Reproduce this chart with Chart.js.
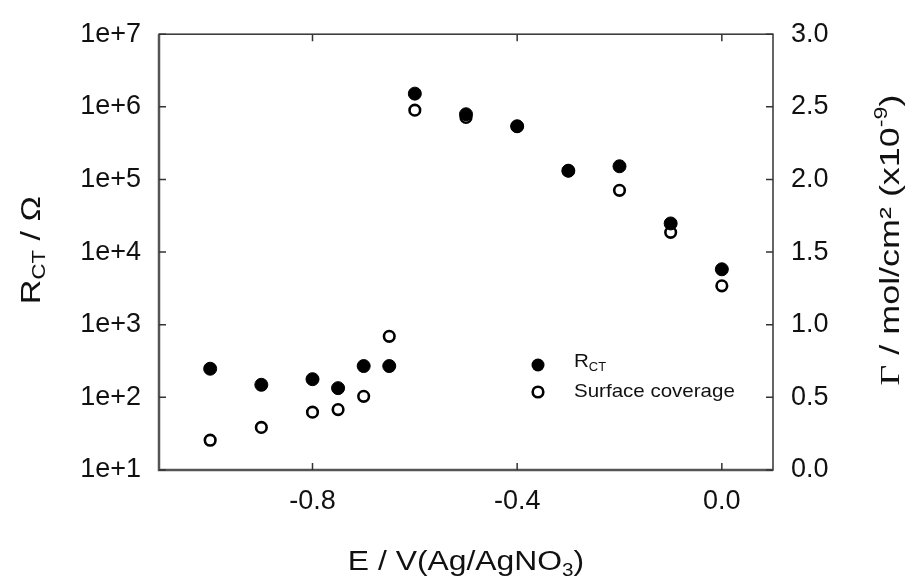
<!DOCTYPE html>
<html>
<head>
<meta charset="utf-8">
<script src="https://cdn.jsdelivr.net/npm/chart.js@4.4.1/dist/chart.umd.min.js"></script>
<style>
  html, body { margin: 0; padding: 0; background: #fff; }
  #wrap { width: 914px; height: 583px; }
</style>
</head>
<body>
<div id="wrap"><canvas id="chart" width="914" height="583"></canvas></div>
<script>
// Data
const potentials = [-1.0, -0.9, -0.8, -0.75, -0.7, -0.65, -0.6, -0.5, -0.4, -0.3, -0.2, -0.1, 0.0];
const rct = [248, 149, 178, 134, 270, 270, 1.52e6, 7.9e5, 5.4e5, 1.32e5, 1.52e5, 2.48e4, 5.8e3];
const coverage = [0.205, 0.293, 0.398, 0.416, 0.507, 0.920, 2.477, 2.427, 2.366, 2.059, 1.925, 1.636, 1.268];

// Tick labels
const xTicks = [-0.8, -0.4, 0.0];
const leftTicks = [1e1, 1e2, 1e3, 1e4, 1e5, 1e6, 1e7];
const rightTicks = [0, 0.5, 1.0, 1.5, 2.0, 2.5, 3.0];

const font = '"Liberation Sans", Arial, sans-serif';
const ink = '#111';

// draw a run of text pieces (normal / sub / sup), centred on x,
// k widens the text (the original lettering is broad)
function drawRich(ctx, parts, size, x, y, k) {
    let total = 0;
    parts.forEach(p => {
        const s = p.sub || p.sup ? size * 0.65 : size;
        p.f = s + 'px ' + (p.serif ? '"Liberation Serif", serif' : font);
        ctx.font = p.f;
        p.w = ctx.measureText(p.t).width;
        total += p.w;
    });
    ctx.save();
    ctx.translate(x, y);
    ctx.scale(k || 1, 1);
    let cx = -total / 2;
    ctx.textBaseline = 'middle';
    ctx.textAlign = 'left';
    parts.forEach(p => {
        ctx.font = p.f;
        let dy = 0;
        if (p.sub) dy = size * 0.3;
        if (p.sup) dy = -size * 0.35;
        ctx.fillText(p.t, cx, y === undefined ? 0 : dy);
        cx += p.w;
    });
    ctx.restore();
}

const extras = {
    id: 'extras',
    afterDraw(chart) {
        const ctx = chart.ctx;
        const a = chart.chartArea;
        const sx = chart.scales.x, sl = chart.scales.yL, sr = chart.scales.yR;
        ctx.save();

        // frame: left and bottom a bit heavier
        ctx.strokeStyle = '#333';
        ctx.lineWidth = 1.5;
        ctx.strokeRect(a.left, a.top, a.right - a.left, a.bottom - a.top);
        ctx.strokeStyle = '#555';
        ctx.lineWidth = 2.5;
        ctx.beginPath();
        ctx.moveTo(a.left, a.top);
        ctx.lineTo(a.left, a.bottom);
        ctx.lineTo(a.right, a.bottom);
        ctx.stroke();

        // inward tick marks
        ctx.strokeStyle = '#333';
        ctx.lineWidth = 1.5;
        const tl = 7;
        ctx.beginPath();
        xTicks.forEach(v => {
            const px = sx.getPixelForValue(v);
            ctx.moveTo(px, a.bottom); ctx.lineTo(px, a.bottom - tl);
            ctx.moveTo(px, a.top); ctx.lineTo(px, a.top + tl);
        });
        leftTicks.forEach(v => {
            const py = sl.getPixelForValue(v);
            ctx.moveTo(a.left, py); ctx.lineTo(a.left + tl, py);
        });
        rightTicks.forEach(v => {
            const py = sr.getPixelForValue(v);
            ctx.moveTo(a.right, py); ctx.lineTo(a.right - tl, py);
        });
        ctx.stroke();

        ctx.fillStyle = ink;

        // x title
        drawRich(ctx, [{t: 'E / V(Ag/AgNO'}, {t: '3', sub: true}, {t: ')'}], 27, 466, 563, 1.18);

        // left title
        ctx.save();
        ctx.translate(32, 250);
        ctx.rotate(-Math.PI / 2);
        drawRich(ctx, [{t: 'R'}, {t: 'CT', sub: true}, {t: ' / Ω'}], 28, 0, 0, 1.22);
        ctx.restore();

        // right title
        ctx.save();
        ctx.translate(892, 240);
        ctx.rotate(-Math.PI / 2);
        drawRich(ctx, [{t: 'Γ', serif: true}, {t: ' / mol/cm² (x10'}, {t: '-9', sup: true}, {t: ')'}], 27, 0, 0, 1.33);
        ctx.restore();

        // legend
        const lx = 538, ly1 = 365, ly2 = 392;
        ctx.beginPath();
        ctx.arc(lx, ly1, 6.5, 0, Math.PI * 2);
        ctx.fillStyle = '#000';
        ctx.fill();
        ctx.beginPath();
        ctx.arc(lx, ly2, 5.3, 0, Math.PI * 2);
        ctx.fillStyle = '#fff';
        ctx.fill();
        ctx.lineWidth = 2.6;
        ctx.strokeStyle = '#000';
        ctx.stroke();
        ctx.fillStyle = ink;
        ctx.save();
        ctx.translate(574, 0);
        ctx.scale(1.08, 1);
        ctx.textBaseline = 'middle';
        ctx.textAlign = 'left';
        ctx.font = '19px ' + font;
        ctx.fillText('R', 0, ly1 - 3);
        const rw = ctx.measureText('R').width;
        ctx.font = '12px ' + font;
        ctx.fillText('CT', rw, ly1 + 3);
        ctx.font = '19px ' + font;
        ctx.fillText('Surface coverage', 0, ly2);
        ctx.restore();

        ctx.restore();
    }
};

new Chart(document.getElementById('chart').getContext('2d'), {
    type: 'scatter',
    data: {
        datasets: [
            {
                label: 'RCT',
                data: potentials.map((x, i) => ({x: x, y: rct[i]})),
                yAxisID: 'yL',
                backgroundColor: '#000',
                borderColor: '#000',
                borderWidth: 1,
                pointRadius: 6.5,
                order: 0
            },
            {
                label: 'Surface coverage',
                data: potentials.map((x, i) => ({x: x, y: coverage[i]})),
                yAxisID: 'yR',
                backgroundColor: '#fff',
                borderColor: '#000',
                borderWidth: 2.6,
                pointRadius: 5.3,
                order: 1
            }
        ]
    },
    options: {
        responsive: false,
        animation: false,
        layout: { padding: { top: 30, left: 0, right: 0, bottom: 0 } },
        plugins: {
            legend: { display: false },
            tooltip: { enabled: false }
        },
        scales: {
            x: {
                type: 'linear',
                min: -1.1,
                max: 0.1,
                grid: { display: false, drawTicks: false },
                border: { display: false },
                afterBuildTicks: s => { s.ticks = xTicks.map(v => ({value: v})); },
                afterFit: s => { s.height = 113; },
                ticks: {
                    padding: 15,
                    color: ink,
                    font: { family: font, size: 27 },
                    callback: v => v.toFixed(1)
                }
            },
            yL: {
                type: 'logarithmic',
                position: 'left',
                min: 10,
                max: 1e7,
                grid: { display: false, drawTicks: false },
                border: { display: false },
                afterBuildTicks: s => { s.ticks = leftTicks.map(v => ({value: v})); },
                afterFit: s => { s.width = 159; },
                ticks: {
                    padding: 18,
                    color: ink,
                    font: { family: font, size: 27 },
                    callback: v => '1e+' + Math.round(Math.log10(v))
                }
            },
            yR: {
                type: 'linear',
                position: 'right',
                min: 0,
                max: 3,
                grid: { display: false, drawTicks: false },
                border: { display: false },
                afterBuildTicks: s => { s.ticks = rightTicks.map(v => ({value: v})); },
                afterFit: s => { s.width = 141; },
                ticks: {
                    padding: 18,
                    color: ink,
                    font: { family: font, size: 27 },
                    callback: v => v.toFixed(1)
                }
            }
        }
    },
    plugins: [extras]
});
</script>
</body>
</html>
